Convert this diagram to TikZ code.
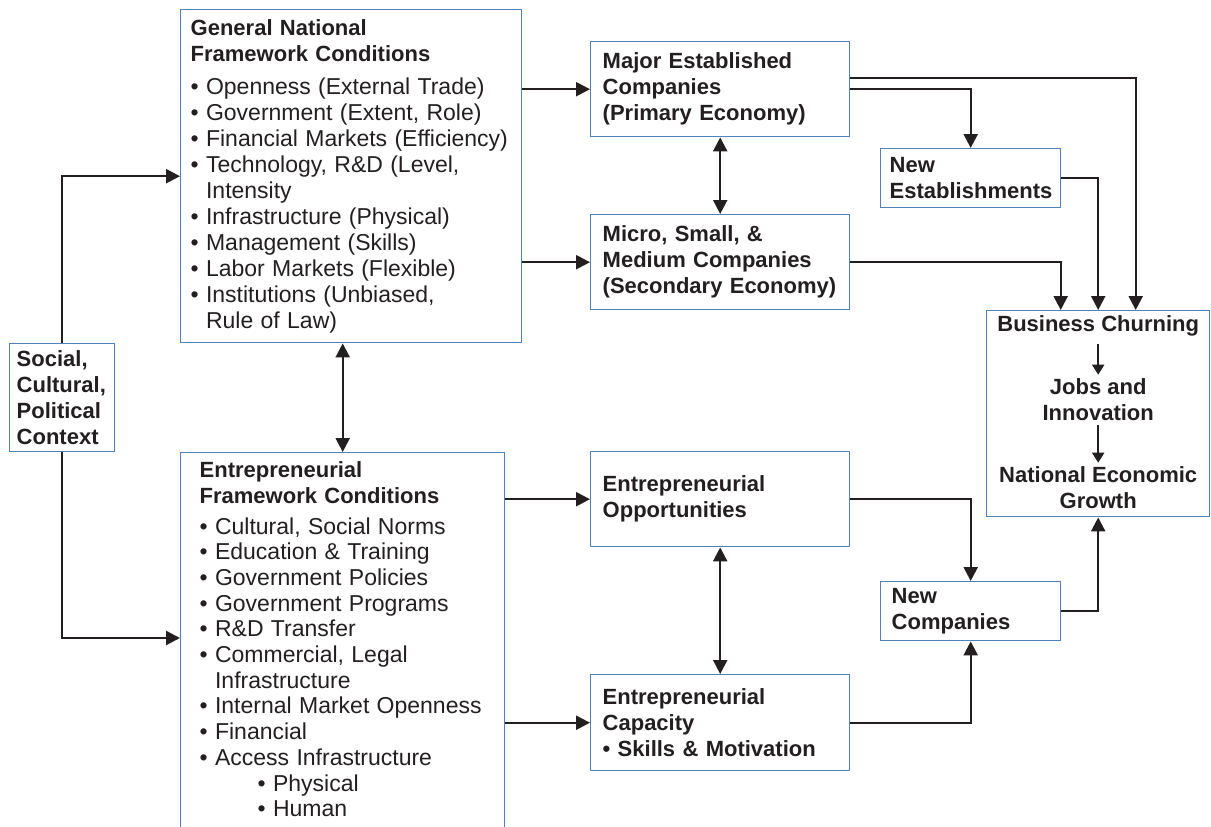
\documentclass[tikz,border=0pt]{standalone}
\usepackage{fontspec}
\setmainfont{Liberation Sans}
\usetikzlibrary{arrows.meta,positioning,calc}
\definecolor{boxblue}{RGB}{79,129,189}
\definecolor{ink}{RGB}{35,31,32}
\tikzset{
    box/.style={draw=boxblue,line width=1.4pt,anchor=north west,align=left,inner ysep=0pt,font=\fontsize{22}{26}\selectfont\bfseries},
    listbox/.style={draw=boxblue,line width=1.4pt,anchor=north west,align=left,font=\fontsize{22}{26}\selectfont\bfseries},
    inbox/.style={align=center,inner sep=4pt,font=\fontsize{22}{26}\selectfont\bfseries},
    arrow/.style={-{Triangle[length=14pt,width=14pt]},line width=2.3pt,draw=ink},
    twoway/.style={{Triangle[length=14pt,width=14pt]}-{Triangle[length=14pt,width=14pt]},line width=2.3pt,draw=ink},
    smallarrow/.style={-{Triangle[length=10pt,width=12pt]},line width=1.8pt,draw=ink}
}
\newcommand{\bul}{\textbullet\ }
\newcommand{\hang}{\hphantom{\textbullet\ }}

\begin{document}
\begin{tikzpicture}[x=1pt,y=-1pt,every node/.style={text=ink}]
    \useasboundingbox (0,0) rectangle (1211,827);
    \clip (0,0) rectangle (1211,827);
    \node[box,text width=91pt,inner xsep=7pt,minimum height=108pt] (context) at (9,343) {Social,\\Cultural,\\Political\\Context};
    \node[listbox,text width=321pt,inner xsep=10pt,inner ysep=0pt,minimum height=333pt] (general) at (180,9) {General National\\Framework Conditions\\[7pt]
        \fontsize{23}{26}\selectfont\mdseries\bul Openness (External Trade)\\
        \bul Government (Extent, Role)\\
        \bul Financial Markets (Efficiency)\\
        \bul Technology, R\&D (Level,\\
        \hang Intensity\\
        \bul Infrastructure (Physical)\\
        \bul Management (Skills)\\
        \bul Labor Markets (Flexible)\\
        \bul Institutions (Unbiased,\\
        \hang Rule of Law)};
    \node[listbox,text width=286pt,inner xsep=19pt,inner ysep=9pt,font=\fontsize{22}{25.7}\selectfont\bfseries] (ef) at (180,452) {Entrepreneurial\\Framework Conditions\\[5pt]
        \fontsize{23}{25.7}\selectfont\mdseries\bul Cultural, Social Norms\\
        \bul Education \& Training\\
        \bul Government Policies\\
        \bul Government Programs\\
        \bul R\&D Transfer\\
        \bul Commercial, Legal\\
        \hang Infrastructure\\
        \bul Internal Market Openness\\
        \bul Financial\\
        \bul Access Infrastructure\\
        \hspace*{58pt}\bul Physical\\
        \hspace*{58pt}\bul Human\rule[-30pt]{0pt}{30pt}};
    \node[box,text width=235pt,inner xsep=12pt,minimum height=95pt] (major) at (590,41) {Major Established\\Companies\\(Primary Economy)};
    \node[box,text width=235pt,inner xsep=12pt,minimum height=95pt] (micro) at (590,214) {Micro, Small, \&\\Medium Companies\\(Secondary Economy)};
    \node[box,text width=235pt,inner xsep=12pt,minimum height=95pt] (opp) at (590,451) {Entrepreneurial\\Opportunities};
    \node[box,text width=235pt,inner xsep=12pt,minimum height=96pt] (cap) at (590,674) {Entrepreneurial\\Capacity\\\bul Skills \& Motivation};
    \node[box,text width=162pt,inner xsep=9pt,minimum height=59pt] (newest) at (880,148) {New\\Establishments};
    \node[box,text width=158pt,inner xsep=11pt,minimum height=59pt] (newco) at (880,581) {New\\Companies};
    \node[box,minimum width=223pt,minimum height=206pt] (churnbox) at (986,310) {};
    \node[inbox] (churn) at ([yshift=-16pt]churnbox.north) {Business Churning};
    \node[inbox] (jobs) at ([yshift=-90pt]churnbox.north) {Jobs and\\Innovation};
    \node[inbox] (growth) at ([yshift=-178pt]churnbox.north) {National Economic\\Growth};
    \draw[smallarrow,shorten <=3pt] (churn) -- (jobs);
    \draw[smallarrow] (jobs) -- (growth);
    \draw[arrow] (context.north) |- (general.west);
    \draw[arrow] (context.south) |- ([yshift=-186pt]ef.north west);
    \draw[twoway] (ef.north |- general.south) -- (ef.north);
    \draw[arrow] (general.east |- major.west) -- (major.west);
    \draw[arrow] (general.east |- micro.west) -- (micro.west);
    \draw[twoway] (major.south) -- (micro.north);
    \draw[arrow] (ef.east |- opp.west) -- (opp.west);
    \draw[arrow] (ef.east |- cap.west) -- (cap.west);
    \draw[twoway] (opp.south) -- (cap.north);
    \draw[arrow] ([yshift=11.5pt]major.east) -| ([xshift=37.5pt]churnbox.north);
    \draw[arrow] (major.east) -| (newest.north);
    \draw[arrow] (newest.east) -| (churnbox.north);
    \draw[arrow] (micro.east) -| ([xshift=-37.5pt]churnbox.north);
    \draw[arrow] (opp.east) -| (newco.north);
    \draw[arrow] (cap.east) -| (newco.south);
    \draw[arrow] (newco.east) -| (churnbox.south);
\end{tikzpicture}
\end{document}
